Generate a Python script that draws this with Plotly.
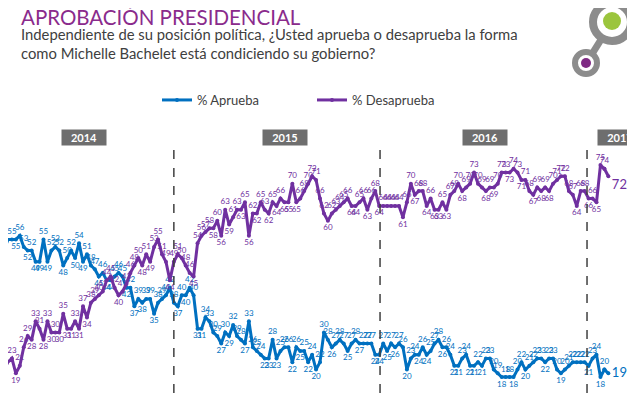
import plotly.graph_objects as go

aprueba = [52, 55, 55, 55, 56, 53, 52, 52, 49, 49, 55, 49, 52, 53, 52, 48, 50, 52, 50, 54,
           49, 51, 48, 47, 45, 46, 44, 44, 45, 46, 45, 42, 42, 37, 39, 38, 39, 39, 35, 38,
           39, 40, 42, 38, 37, 40, 40, 42, 40, 31, 31, 34, 33, 30, 29, 27, 30, 29, 32, 29,
           28, 27, 33, 26, 25, 24, 23, 23, 28, 23, 25, 26, 26, 22, 26, 25, 25, 22, 24, 20,
           22, 30, 28, 26, 27, 28, 27, 25, 27, 28, 27, 27, 27, 27, 24, 24, 27, 25, 27, 26,
           27, 26, 20, 23, 24, 24, 26, 24, 25, 27, 28, 26, 26, 24, 21, 21, 23, 24, 21, 21,
           22, 21, 23, 23, 20, 19, 18, 18, 18, 18, 20, 22, 20, 21, 22, 23, 23, 22, 23, 23,
           20, 19, 20, 21, 22, 22, 22, 22, 21, 23, 24, 18, 20, 19]
desaprueba = [20, 22, 23, 19, 21, 26, 29, 28, 33, 31, 28, 33, 30, 30, 30, 35, 31, 31, 33, 31,
              37, 34, 38, 39, 40, 41, 44, 45, 42, 40, 41, 43, 46, 48, 50, 48, 51, 49, 53, 55,
              51, 49, 44, 49, 51, 50, 48, 46, 45, 54, 56, 57, 58, 58, 60, 56, 63, 59, 61, 63,
              63, 65, 56, 62, 62, 65, 63, 62, 65, 64, 66, 65, 65, 70, 65, 66, 68, 70, 72, 71,
              66, 62, 60, 62, 63, 64, 65, 66, 64, 64, 65, 66, 63, 66, 68, 64, 64, 64, 64, 64,
              64, 61, 65, 70, 67, 68, 68, 64, 66, 63, 63, 65, 63, 67, 68, 70, 68, 69, 70, 73,
              70, 69, 68, 69, 69, 70, 73, 73, 73, 74, 73, 71, 71, 68, 67, 69, 68, 69, 68, 70,
              71, 72, 72, 68, 67, 64, 68, 68, 66, 66, 65, 75, 74, 72]
series_names = ["% Aprueba", "% Desaprueba"]
year_labels = ["2014", "2015", "2016", "2017"]
year_label_pos = [20.2, 71.1, 121.8, 156.0]
year_breaks = [43.0, 95.2, 147.6]

BLUE = "#0070C0"
PURPLE = "#7030A0"
W, H = 635, 393
OFF = 8  # page body margin
PLOT_L, PLOT_R = OFF, W           # visible pixel coords
PLOT_TOP, PLOT_BOT = 145, H


def py(ypx):
    return (PLOT_BOT - ypx) / (PLOT_BOT - PLOT_TOP)


def px(xpx):
    return (xpx - PLOT_L) / (PLOT_R - PLOT_L)


def positions(vals):
    out = []
    n = len(vals)
    for i, v in enumerate(vals):
        prev = vals[i - 1] if i > 0 else v
        nxt = vals[i + 1] if i < n - 1 else v
        if v < prev and v <= nxt or v <= prev and v < nxt:
            out.append("bottom center")
        else:
            out.append("top center")
    return out


x = list(range(len(aprueba)))
x0_idx = (PLOT_L - 4) / 3.95
x1_idx = (PLOT_R - 4) / 3.95

fig = go.Figure()
for name, vals, col, lastpos in [(series_names[0], aprueba, BLUE, "middle right"),
                                 (series_names[1], desaprueba, PURPLE, "bottom right")]:
    pos = positions(vals)
    fig.add_trace(go.Scatter(
        x=x[:-1], y=vals[:-1], mode="lines+markers+text", name=name,
        line=dict(color=col, width=3), marker=dict(color=col, size=4),
        text=[str(v) for v in vals[:-1]], textposition=pos[:-1],
        textfont=dict(color=col, size=8, family="Lato"),
        cliponaxis=False, showlegend=True))
    fig.add_trace(go.Scatter(
        x=x[-2:], y=vals[-2:], mode="lines+markers+text", name=name,
        line=dict(color=col, width=3), marker=dict(color=col, size=4),
        text=["", str(vals[-1])], textposition=lastpos,
        textfont=dict(color=col, size=13, family="Lato"),
        cliponaxis=False, showlegend=False))

shapes = []
for b in year_breaks:
    shapes.append(dict(type="line", xref="x", yref="paper", x0=b, x1=b, y0=0, y1=1,
                       line=dict(color="#404040", width=1.5, dash="dash")))


def circ(cx, cy, r, fill=None, line=None, lw=0):
    return dict(type="circle", xref="paper", yref="paper",
                x0=px(cx - r), x1=px(cx + r), y0=py(cy + r), y1=py(cy - r),
                fillcolor=fill or "rgba(0,0,0,0)",
                line=dict(color=line or "rgba(0,0,0,0)", width=lw))


shapes.append(dict(type="line", xref="paper", yref="paper", x0=px(612), y0=py(22),
                   x1=px(587), y1=py(62), line=dict(color="#8C8C8C", width=7)))
shapes.append(circ(612, 22, 19, fill="white", line="#8C8C8C", lw=8))
shapes.append(circ(612, 21, 9, fill="#9BC53D"))
shapes.append(circ(586, 63, 11, fill="white", line="#8C8C8C", lw=6))
shapes.append(circ(586, 63, 5, fill="#7F2A84"))

annotations = []
for lab, p in zip(year_labels, year_label_pos):
    annotations.append(dict(text="<b>%s</b>" % lab, xref="x", yref="paper", x=p, y=py(137.5),
                            yanchor="middle", showarrow=False, bgcolor="#6E6E6E",
                            width=42, height=13,
                            font=dict(color="white", size=11, family="Lato")))
annotations.append(dict(text="APROBACIÓN PRESIDENCIAL", xref="paper", yref="paper",
                        x=px(19), y=py(17), xanchor="left", yanchor="middle", showarrow=False,
                        font=dict(color="#8A2B8C", size=20.5, family="Lato")))
annotations.append(dict(text="Independiente de su posición política, ¿Usted aprueba o desaprueba la forma<br>"
                             "como Michelle Bachelet está condiciendo su gobierno?",
                        xref="paper", yref="paper", x=px(19), y=py(43.5), xanchor="left",
                        yanchor="middle", align="left", showarrow=False,
                        font=dict(color="#404040", size=14.8, family="Lato")))

fig.update_layout(
    width=W, height=H,
    margin=dict(l=0, r=OFF, t=PLOT_TOP - OFF, b=OFF, autoexpand=False),
    paper_bgcolor="white", plot_bgcolor="white",
    xaxis=dict(range=[x0_idx, x1_idx], visible=False),
    yaxis=dict(range=[13.7, 80.4], visible=False),
    showlegend=True,
    legend=dict(orientation="h", x=px(157), y=py(100), xanchor="left", yanchor="middle",
                font=dict(color="#404040", size=13, family="Lato"),
                entrywidth=110, entrywidthmode="pixels", traceorder="normal"),
    shapes=shapes, annotations=annotations)

fig.write_html("out.html")
